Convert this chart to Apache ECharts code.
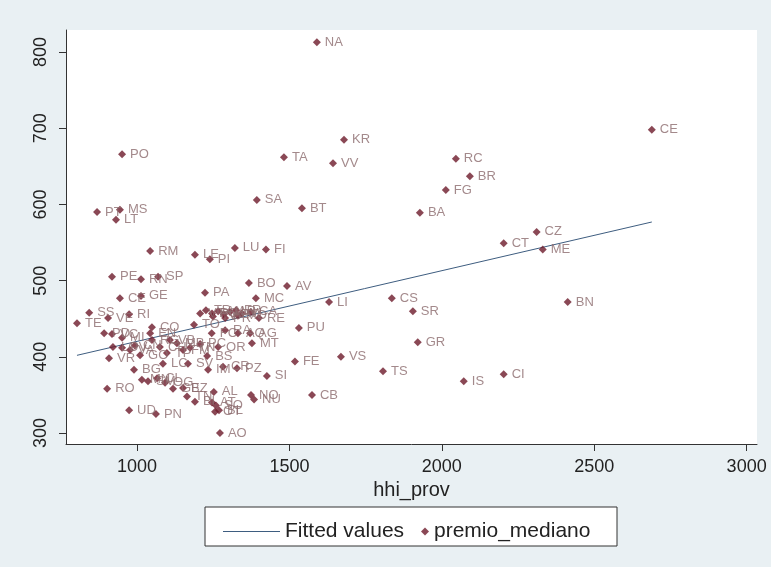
<!DOCTYPE html>
<html>
<head>
<meta charset="utf-8">
<script src="https://cdn.jsdelivr.net/npm/echarts@6/dist/echarts.min.js"></script>
<style>
  html, body { margin: 0; padding: 0; background: #e9f0f3; }
  #chart { width: 771px; height: 567px; }
</style>
</head>
<body>
<div id="chart"></div>
<script>
// province codes, hhi_prov (x), premio_mediano (y)
const provinces = [
  'NA','CE','KR','RC','TA','VV','PO','BR','FG','SA','BT','BA','PT','MS','LT',
  'CZ','CT','ME','RM','LE','PI','LU','FI','PE','RN','SP','BO','AV','PA','MC',
  'CS','LI','BN','CE','GE','SR','SS','VE','RI','TE','PU','CO','TO','RE','PD',
  'GR','FE','VS','SI','TS','IS','CI','CB','AO','RO','UD','PN','AL','NO','NU',
  'VR','BG','LC','SV','CR','PZ','IM','BI','AT','SO','BL','OT',
  'VT','TR','PG','AN','AP','AR','FR','CA','VI','TV','PR','MO',
  'FC','RA','AQ','AG','MT','OR','BS','TN','PC',
  'VC','MI','LO','PV','VA','CN','GO','EN','RG','CH','TP','VB','MB','FM',
  'MN','SM','CL','OG','BZ','GE','TN'
];
const hhiProv = [
  1590, 2689, 1679, 2046, 1482, 1643, 951, 2092, 2013, 1393, 1541, 1928, 869, 944, 931,
  2311, 2203, 2331, 1043, 1190, 1239, 1321, 1423, 918, 1013, 1069, 1367, 1492, 1223, 1390,
  1836, 1630, 2413, 944, 1013, 1905, 843, 905, 974, 803, 1531, 1049, 1187, 1400, 892,
  1921, 1518, 1669, 1426, 1807, 2072, 2203, 1574, 1272, 902, 974, 1062, 1252, 1374, 1384,
  908, 990, 1085, 1167, 1282, 1328, 1233, 1190, 1246, 1259, 1269, 1256,
  1207, 1226, 1246, 1266, 1285, 1305, 1325, 1374, 1344, 1249, 1289, 1331,
  1245, 1289, 1331, 1371, 1377, 1266, 1230, 1174, 1207,
  918, 951, 921, 951, 977, 993, 1010, 1043, 1049, 1075, 1098, 1108, 1131, 1151,
  1016, 1036, 1066, 1092, 1151, 1118, 1164
];
const premioMediano = [
  813, 698, 685, 660, 662, 654, 666, 637, 619, 606, 595, 589, 590, 593, 580,
  564, 549, 541, 539, 534, 528, 543, 541, 505, 502, 505, 497, 493, 484, 477,
  477, 472, 472, 477, 480, 460, 458, 451, 456, 444, 438, 439, 442, 451, 431,
  419, 394, 400, 375, 381, 368, 377, 350, 300, 358, 330, 325, 354, 350, 344,
  398, 383, 391, 391, 387, 385, 383, 341, 340, 336, 330, 328,
  457, 461, 457, 460, 456, 459, 461, 459, 457, 453, 451, 454,
  431, 435, 431, 431, 418, 413, 401, 412, 417,
  430, 425, 413, 412, 409, 415, 402, 431, 422, 413, 405, 422, 418, 409,
  370, 368, 372, 366, 359, 358, 348
];
// fitted line end points (min and max of hhi_prov)
const fitX = [803, 2689];
const fitY = [402, 577];

const xTicks = [1000, 1500, 2000, 2500, 3000];
const yTicks = [300, 400, 500, 600, 700, 800];

const chart = echarts.init(document.getElementById('chart'));

const points = hhiProv.map((x, i) => ({ name: provinces[i], value: [x, premioMediano[i]] }));
const fitted = fitX.map((x, i) => [x, fitY[i]]);

const font = 'Liberation Sans, Arial, sans-serif';
const lineColor = '#3e5d80';

chart.setOption({
  backgroundColor: '#e9f0f3',
  animation: false,
  grid: {
    left: 66, right: 14, top: 30, bottom: 123,
    show: true,
    backgroundColor: '#ffffff',
    borderWidth: 0
  },
  xAxis: {
    type: 'value',
    min: 767,
    max: 3034,
    name: 'hhi_prov',
    nameLocation: 'middle',
    nameGap: 32,
    nameTextStyle: { color: '#222', fontSize: 20, fontFamily: font },
    splitLine: { show: false },
    axisLine: { show: true, lineStyle: { color: '#333', width: 1 } },
    axisTick: { show: true, length: 7, customValues: xTicks, lineStyle: { color: '#333' } },
    axisLabel: {
      customValues: xTicks, margin: 14, color: '#222', fontSize: 18, fontFamily: font,
      formatter: v => String(v)
    }
  },
  yAxis: {
    type: 'value',
    min: 285.6,
    max: 829,
    splitLine: { show: false },
    axisLine: { show: true, lineStyle: { color: '#333', width: 1 } },
    axisTick: { show: true, length: 7, customValues: yTicks, lineStyle: { color: '#333' } },
    axisLabel: {
      customValues: yTicks, rotate: 90, margin: 16, color: '#222', fontSize: 18, fontFamily: font,
      formatter: v => String(v)
    }
  },
  legend: [
    {
      data: [{ name: 'Fitted values', icon: 'path://M0,0 L57,0 L57,1 L0,1 Z' }],
      left: 218, top: 516,
      itemWidth: 57, itemHeight: 10,
      textStyle: { color: '#222', fontSize: 21, fontFamily: font }
    },
    {
      data: ['premio_mediano'],
      left: 416, top: 516,
      itemWidth: 8, itemHeight: 8,
      textStyle: { color: '#222', fontSize: 21, fontFamily: font }
    }
  ],
  graphic: [{
    type: 'rect',
    z: -1,
    shape: { x: 205, y: 507, width: 412, height: 39 },
    style: { fill: '#ffffff', stroke: '#333', lineWidth: 1 }
  }],
  series: [
    {
      name: 'Fitted values',
      type: 'line',
      data: fitted,
      symbol: 'none',
      itemStyle: { color: lineColor },
      lineStyle: { color: lineColor, width: 1 },
      z: 2
    },
    {
      name: 'premio_mediano',
      type: 'scatter',
      data: points,
      symbol: 'diamond',
      symbolSize: 8,
      itemStyle: { color: '#6d1a2a' },
      label: {
        show: true,
        position: 'right',
        distance: 4,
        formatter: '{b}',
        color: '#8c6b6e',
        fontSize: 13,
        fontFamily: font
      },
      z: 3
    }
  ]
});
</script>
</body>
</html>
